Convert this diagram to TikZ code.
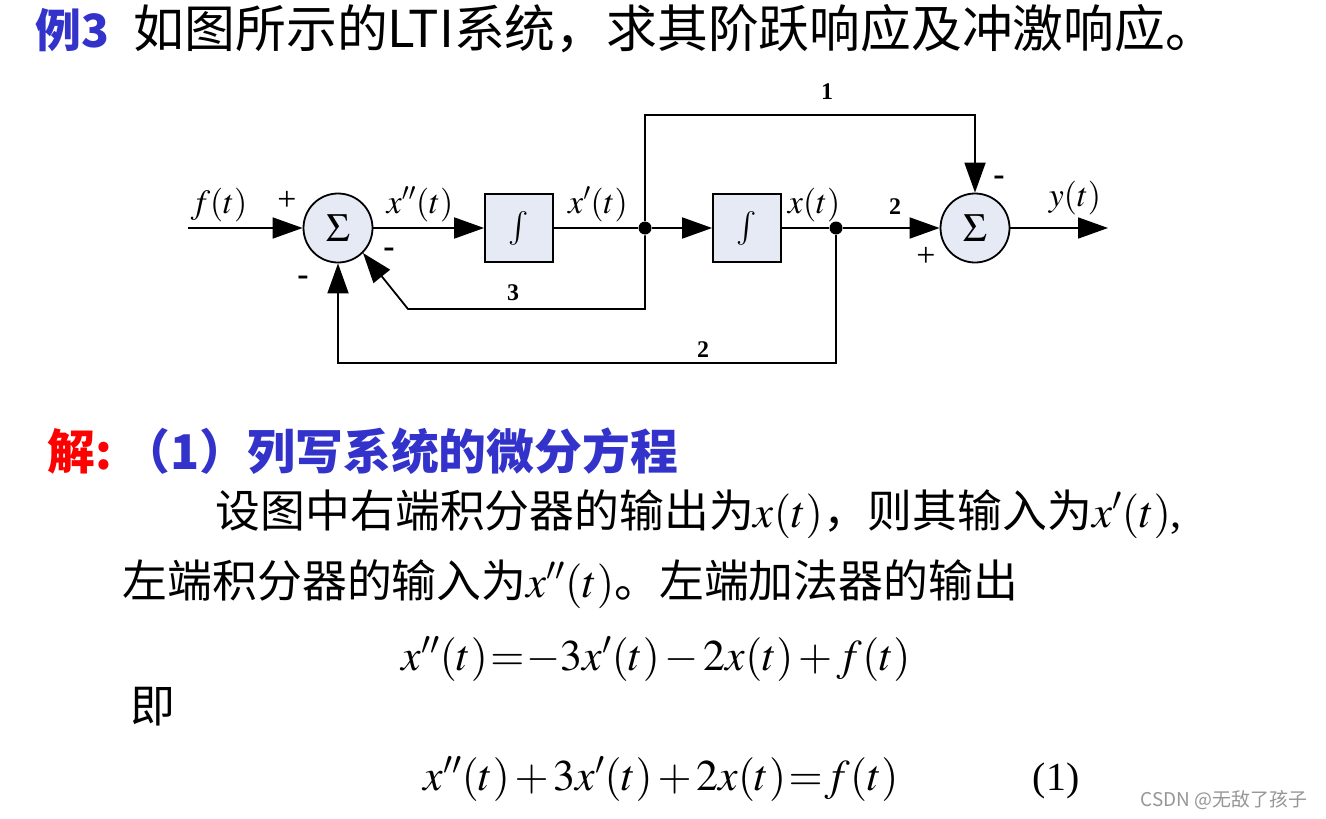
\documentclass[tikz,border=0pt]{standalone}
\usepackage{mathptmx}
\usepackage[no-math]{fontspec}
\setmainfont{Liberation Serif}
\newfontfamily\cjk{Noto Sans CJK SC}
\usepackage{xcolor}
\usetikzlibrary{arrows.meta, positioning}

\definecolor{titleblue}{RGB}{51,51,204}
\definecolor{blockfill}{RGB}{230,234,245}
\definecolor{markgray}{RGB}{150,150,150}

\newcommand\tighteq{\thickmuskip=1mu\relax\medmuskip=2mu\relax}

\tikzset{
  sumnode/.style={circle, draw, line width=1.8bp, fill=blockfill, minimum size=69bp,
    inner sep=0pt, font=\fontsize{40}{40}\selectfont},
  intblock/.style={draw, line width=1.8bp, fill=blockfill, minimum width=68bp,
    minimum height=68bp, inner sep=0pt, font=\fontsize{34}{34}\selectfont},
  junction/.style={circle, fill=black, inner sep=0pt, minimum size=13bp},
  siglabel/.style={font=\fontsize{34}{34}\selectfont, inner sep=0pt, anchor=base},
  gainlabel/.style={font=\fontsize{24}{24}\selectfont\bfseries, inner sep=0pt},
  signlabel/.style={font=\fontsize{34}{34}\selectfont, inner sep=0pt},
  textline/.style={anchor=base west, inner sep=0pt},
  eqline/.style={textline, font=\fontsize{44}{44}\selectfont\tighteq}
}

\begin{document}
\begin{tikzpicture}[x=1bp, y=-1bp, line width=1.8bp, >={Triangle[length=30bp,width=21bp]}]
    \path[use as bounding box, fill=white] (0,0) rectangle (1326,818);

    % 标题
    \node[textline, text=titleblue, font=\cjk\bfseries\fontsize{46}{46}\selectfont] (ex) at (35,48) {例3};
    \node[textline, font=\cjk\fontsize{51}{51}\selectfont] (ttl) at (133,48) {如图所示的LTI系统，求其阶跃响应及冲激响应。};

    % 方框图
    \node[sumnode] (s1) at (338,228) {$\Sigma$};
    \node[intblock] (i1) at (519,228) {$\int$};
    \node[junction] (d1) at (645,228) {};
    \node[intblock] (i2) at (747,228) {$\int$};
    \node[junction] (d2) at (836,228) {};
    \node[sumnode] (s2) at (975,228) {$\Sigma$};
    \coordinate (fin) at (188,228);
    \coordinate (yout) at (1108,228);
    \coordinate (c1) at (975,115);
    \coordinate (c3) at (408,309);
    \coordinate (c2) at (338,363);

    \draw[->] (fin) -- (s1);
    \draw[->] (s1) -- (i1);
    \draw (i1) -- (d1);
    \draw[->] (d1) -- (i2);
    \draw (i2) -- (d2);
    \draw[->] (d2) -- (s2);
    \draw[->] (s2) -- (yout);
    \draw[->] (d1) |- (c1) -- (s2);
    \draw[->] (d1) |- (c3) -- (s1.south east);
    \draw[->] (d2) |- (c2) -- (s1);

    \node[siglabel] (lf) at (219,213) {$f(t)$};
    \node[siglabel] (lx2) at (420,213) {$x''(t)$};
    \node[siglabel] (lx1) at (598,213) {$x'(t)$};
    \node[siglabel] (lx0) at (814,213) {$x(t)$};
    \node[siglabel] (ly) at (1075,206) {$y(t)$};

    \node[gainlabel] (g1) at (827,92) {1};
    \node[gainlabel] (g2) at (895,207) {2};
    \node[gainlabel] (g3) at (513,293) {3};
    \node[gainlabel] (g4) at (703,350) {2};

    \node[signlabel] (p1) at (287,201) {+};
    \node[signlabel] (m1) at (389,253) {\textbf{-}};
    \node[signlabel] (m2) at (303,281) {\textbf{-}};
    \node[signlabel] (m3) at (999,181) {\textbf{-}};
    \node[signlabel] (p2) at (926,257) {+};

    % 解答
    \node[textline, text=red, font=\cjk\bfseries\fontsize{48}{48}\selectfont] (jie) at (47,469) {解:};
    \node[textline, text=titleblue, font=\cjk\bfseries\fontsize{48}{48}\selectfont] (step1) at (122,469) {（1）列写系统的微分方程};
    \node[textline, font=\fontsize{45}{45}\selectfont] (line1) at (215,527)
        {{\cjk 设图中右端积分器的输出为}$x(t)${\cjk ，则其输入为}$x'(t)$,};
    \node[textline, font=\fontsize{45}{45}\selectfont] (line2) at (122,597)
        {{\cjk 左端积分器的输入为}$x''(t)${\cjk 。左端加法器的输出}};
    \node[eqline] (eq1) at (401,670) {$x''(t)=-3x'(t)-2x(t)+f(t)$};
    \node[textline, font=\cjk\fontsize{45}{45}\selectfont] (ji) at (130,722) {即};
    \node[eqline] (eq2) at (423,790) {$x''(t)+3x'(t)+2x(t)=f(t)$};
    \node[textline, font=\fontsize{40}{40}\selectfont] (eqno) at (1032,790) {(1)};
    \node[textline, text=markgray, font=\cjk\fontsize{19}{19}\selectfont] (mark) at (1140,806) {CSDN @无敌了孩子};
\end{tikzpicture}
\end{document}
